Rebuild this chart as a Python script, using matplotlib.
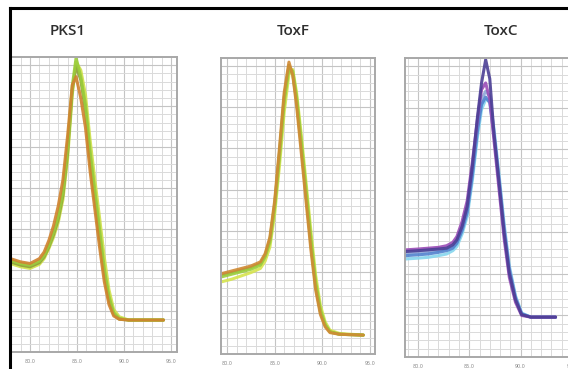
import matplotlib
matplotlib.use("Agg")
import matplotlib.pyplot as plt
from matplotlib.lines import Line2D
from matplotlib.ticker import MultipleLocator

# melt-curve replicates, -dF/dT against temperature (°C)
pks1_temp = [77.9, 79.0, 80.0, 81.0, 81.5, 82.0, 82.5, 83.0, 83.5, 84.0, 84.5, 84.9,
             85.4, 85.9, 86.4, 86.9, 87.4, 87.9, 88.4, 88.9, 89.5, 90.5, 94.2]
pks1_yellow = [10.8, 10.4, 10.2, 10.7, 11.4, 12.6, 14.0, 15.8, 18.6, 23.6, 31.4, 35.4,
               34.4, 31.4, 25.8, 21.0, 16.4, 11.6, 7.6, 5.2, 4.3, 3.9, 3.9]
pks1_olive = [11.0, 10.6, 10.4, 10.9, 11.6, 12.8, 14.3, 16.2, 19.1, 24.3, 32.0, 34.9,
              33.2, 29.4, 23.4, 18.6, 14.0, 9.6, 6.4, 4.6, 4.0, 3.9, 3.9]
pks1_green = [11.2, 10.8, 10.6, 11.1, 11.8, 13.0, 14.6, 16.6, 19.6, 25.0, 32.5, 35.9,
              33.6, 30.2, 24.4, 19.7, 15.0, 10.2, 6.8, 4.8, 4.1, 3.9, 3.9]
pks1_orange = [11.4, 11.0, 10.8, 11.4, 12.2, 13.6, 15.4, 17.8, 21.0, 26.4, 32.6, 33.6,
               31.0, 27.4, 22.0, 17.4, 12.8, 8.6, 5.8, 4.4, 4.0, 3.9, 3.9]

toxf_temp = [79.5, 80.5, 81.5, 82.5, 83.5, 84.0, 84.5, 85.0, 85.5, 86.0, 86.5, 86.9,
             87.3, 87.8, 88.3, 88.8, 89.3, 89.8, 90.3, 90.8, 91.8, 94.3]
toxf_yellow = [8.8, 9.1, 9.5, 9.9, 10.4, 11.3, 13.0, 17.0, 22.8, 29.4, 34.0, 34.6,
               31.8, 26.6, 20.8, 15.0, 9.6, 5.9, 3.9, 2.9, 2.5, 2.3]
toxf_olive = [9.6, 9.9, 10.2, 10.5, 11.0, 12.0, 13.9, 18.2, 24.4, 31.2, 35.1, 34.0,
              30.8, 25.2, 19.3, 13.4, 8.3, 5.1, 3.5, 2.7, 2.4, 2.3]
toxf_green = [9.4, 9.7, 10.0, 10.3, 10.8, 11.8, 13.6, 17.8, 23.9, 30.6, 34.8, 34.4,
              31.3, 25.8, 20.0, 14.1, 8.8, 5.4, 3.6, 2.7, 2.4, 2.3]
toxf_orange = [9.8, 10.1, 10.4, 10.7, 11.2, 12.2, 14.2, 18.6, 25.0, 31.8, 35.5, 33.9,
               30.2, 24.4, 18.5, 12.7, 7.8, 4.8, 3.3, 2.6, 2.4, 2.3]

toxc_temp = [78.8, 80.0, 81.0, 82.0, 82.8, 83.4, 83.8, 84.3, 84.8, 85.3, 85.8, 86.2,
             86.6, 87.0, 87.4, 87.9, 88.4, 88.9, 89.5, 90.1, 91.0, 93.4]
toxc_cyan = [11.8, 11.9, 12.0, 12.2, 12.4, 12.8, 13.3, 14.8, 16.9, 21.2, 26.5, 29.8,
             31.0, 30.9, 27.6, 22.0, 16.0, 11.0, 7.4, 5.3, 4.8, 4.8]
toxc_slate = [12.5, 12.6, 12.7, 12.8, 13.0, 13.3, 13.9, 15.4, 17.8, 22.2, 27.8, 31.0,
              32.0, 31.4, 27.2, 21.6, 15.6, 10.7, 7.2, 5.2, 4.8, 4.8]
toxc_blue = [12.2, 12.3, 12.4, 12.6, 12.8, 13.1, 13.7, 15.2, 17.4, 21.8, 27.2, 30.4,
             31.3, 30.6, 26.8, 21.3, 15.3, 10.5, 7.1, 5.2, 4.8, 4.8]
toxc_purple = [12.9, 13.0, 13.1, 13.2, 13.4, 13.8, 14.5, 16.3, 18.8, 23.4, 28.6, 32.2,
               33.0, 31.0, 26.2, 20.2, 14.2, 9.6, 6.6, 5.0, 4.8, 4.8]
toxc_dark = [12.7, 12.8, 12.9, 13.0, 13.1, 13.5, 14.1, 15.7, 18.1, 22.9, 28.9, 33.0,
             35.8, 33.5, 27.0, 21.0, 14.9, 10.1, 6.9, 5.1, 4.8, 4.8]

tick_values = [80, 85, 90, 95]
tick_labels = ["80.0", "85.0", "90.0", "95.0"]

W, H = 568, 369
fig = plt.figure(figsize=(W / 100, H / 100), dpi=100)
fig.patch.set_facecolor("white")


def px_box(left, top, right, bottom):
    return [left / W, 1 - bottom / H, (right - left) / W, (bottom - top) / H]


panels = [
    ("PKS1", px_box(10, 57, 177, 352), (77.87, 95.64), 68, pks1_temp,
     [(pks1_yellow, "#cfe04a"), (pks1_olive, "#8fa23a"),
      (pks1_green, "#9acd3c"), (pks1_orange, "#d0822e")]),
    ("ToxF", px_box(221, 58, 375, 354), (79.37, 95.53), 293, toxf_temp,
     [(toxf_yellow, "#d6e44e"), (toxf_olive, "#8c9f38"),
      (toxf_green, "#9ccf3e"), (toxf_orange, "#d08a34")]),
    ("ToxC", px_box(405, 58, 572, 357), (78.75, 94.8), 501, toxc_temp,
     [(toxc_cyan, "#86d6ee"), (toxc_slate, "#8ea6d8"), (toxc_blue, "#5283cf"),
      (toxc_purple, "#9a4cb6"), (toxc_dark, "#4b3f95")]),
]

for title, box, xlim, title_x, temp, series in panels:
    ax = fig.add_axes(box)
    ax.set_xlim(*xlim)
    ax.set_ylim(0, 36)
    ax.xaxis.set_minor_locator(MultipleLocator(1))
    ax.yaxis.set_minor_locator(MultipleLocator(1))
    ax.set_yticks(range(0, 37, 5))
    ax.set_yticklabels([])
    ax.set_xticks(tick_values)
    ax.set_xticklabels(tick_labels, fontsize=3.5, color="#8a8a8a")
    ax.tick_params(which="both", length=0, pad=5)
    ax.grid(which="minor", color="#dadada", lw=0.7)
    ax.grid(which="major", color="#c4c4c4", lw=0.8)
    ax.set_axisbelow(True)
    for sp in ax.spines.values():
        sp.set_color("#a8a8a8")
        sp.set_linewidth(1.4)
    for values, color in series:
        ax.plot(temp, values, color=color, lw=2.2, alpha=0.9,
                solid_joinstyle="round", solid_capstyle="round")
    fig.text(title_x / W, 1 - 31 / H, title, ha="center", va="center",
             fontsize=11, fontweight="semibold", color="#2e2e2e", family="Open Sans")

# outer frame (top and left edges)
fig.add_artist(Line2D([9.5 / W, 1], [1 - 7.5 / H, 1 - 7.5 / H], color="black", lw=2.2))
fig.add_artist(Line2D([9.5 / W, 9.5 / W], [0, 1 - 7.5 / H], color="black", lw=2.2))

fig.savefig("out.png", dpi=100, facecolor="white")
